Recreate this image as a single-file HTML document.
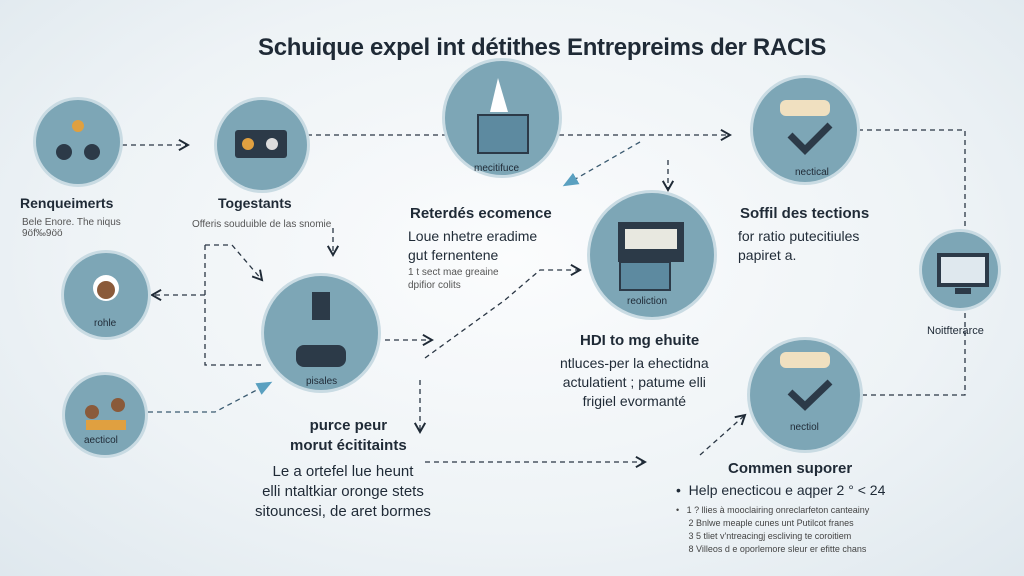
<!DOCTYPE html><html><head><meta charset="utf-8"><style>
body{margin:0;width:1024px;height:576px;overflow:hidden;background:radial-gradient(ellipse at 50% 45%,#fbfcfd 0%,#eef3f6 60%,#dfe8ee 100%);font-family:"Liberation Sans",sans-serif;color:#1f2a36;position:relative}
.t{position:absolute;white-space:nowrap}
.c{position:absolute;border-radius:50%;background:#7da6b6;box-shadow:0 0 0 3px #c9dbe3}
.b{font-weight:bold}
.i{position:absolute}
</style></head><body>
<svg width="1024" height="576" style="position:absolute;left:0;top:0">
<defs><marker id="a" markerWidth="10" markerHeight="10" refX="8" refY="5" orient="auto"><path d="M1,1 L8,5 L1,9" fill="none" stroke="#1f2a36" stroke-width="1.5"/></marker>
<marker id="b" markerWidth="12" markerHeight="10" refX="10" refY="5" orient="auto"><path d="M0,0 L12,5 L0,10 Z" fill="#5aa0c0"/></marker></defs>
<g fill="none" stroke="#2a3644" stroke-width="1.3" stroke-dasharray="5,4">
<path d="M122,145 H188" marker-end="url(#a)"/>
<path d="M307,135 H730" marker-end="url(#a)"/>
<path d="M668,160 V190" marker-end="url(#a)"/>
<path d="M640,142 L565,185" stroke="#3a5a70" marker-end="url(#b)"/>
<path d="M858,130 H965 V240"/>
<path d="M333,228 V255" marker-end="url(#a)"/>
<path d="M205,245 H232 L262,280" marker-end="url(#a)"/>
<path d="M205,245 V365 H265"/>
<path d="M205,295 H152" marker-end="url(#a)"/>
<path d="M148,412 H215 L270,383" stroke="#3a5a70" marker-end="url(#b)"/>
<path d="M385,340 H432" marker-end="url(#a)"/>
<path d="M425,358 L505,300 L540,270 H580" marker-end="url(#a)"/>
<path d="M420,380 V432" marker-end="url(#a)"/>
<path d="M425,462 H645" marker-end="url(#a)"/>
<path d="M700,455 L745,415" marker-end="url(#a)"/>
<path d="M862,395 H965 V300"/>
</g>
</svg>
<div class="t b" style="left:258px;top:34px;font-size:24px;letter-spacing:-0.3px">Schuique expel int détithes Entrepreims der RACIS</div>
<div class="c" style="left:36px;top:100px;width:84px;height:84px"></div>
<div class="c" style="left:217px;top:100px;width:90px;height:90px"></div>
<div class="c" style="left:445px;top:61px;width:114px;height:114px"></div>
<div class="c" style="left:753px;top:78px;width:104px;height:104px"></div>
<div class="c" style="left:64px;top:253px;width:84px;height:84px"></div>
<div class="c" style="left:264px;top:276px;width:114px;height:114px"></div>
<div class="c" style="left:590px;top:193px;width:124px;height:124px"></div>
<div class="c" style="left:750px;top:340px;width:110px;height:110px"></div>
<div class="c" style="left:65px;top:375px;width:80px;height:80px"></div>
<div class="c" style="left:922px;top:232px;width:76px;height:76px"></div>
<svg width="1024" height="576" style="position:absolute;left:0;top:0">
<g fill="#2c3a48">
<circle cx="64" cy="152" r="8"/><circle cx="92" cy="152" r="8"/><circle cx="78" cy="126" r="6" fill="#e0a040"/>
<rect x="235" y="130" width="52" height="28" rx="3"/><circle cx="248" cy="144" r="6" fill="#e0a040"/><circle cx="272" cy="144" r="6" fill="#ddd"/>
<rect x="478" y="115" width="50" height="38" fill="#5d8aa0" stroke="#2c3a48" stroke-width="2"/><path d="M498,78 L508,112 L490,112 Z" fill="#fff"/>
<rect x="780" y="100" width="50" height="16" rx="6" fill="#f0e0c0"/><path d="M790,135 L805,150 L830,125" fill="none" stroke="#2c3a48" stroke-width="7"/>
<circle cx="106" cy="288" r="13" fill="#fff"/><circle cx="106" cy="290" r="9" fill="#8a5a3a"/>
<rect x="312" y="292" width="18" height="28" fill="#2c3a48"/><rect x="296" y="345" width="50" height="22" rx="8"/>
<rect x="618" y="222" width="66" height="40" fill="#2c3a48"/><rect x="625" y="229" width="52" height="20" fill="#e8e8e0"/><rect x="620" y="262" width="50" height="28" fill="#5d8aa0" stroke="#2c3a48" stroke-width="2"/>
<rect x="780" y="352" width="50" height="16" rx="6" fill="#f0e0c0"/><path d="M790,392 L805,406 L830,382" fill="none" stroke="#2c3a48" stroke-width="7"/>
<circle cx="92" cy="412" r="7" fill="#8a5a3a"/><circle cx="118" cy="405" r="7" fill="#8a5a3a"/><rect x="86" y="420" width="40" height="10" fill="#e0a040"/>
<rect x="937" y="253" width="52" height="34" fill="#2c3a48"/><rect x="941" y="257" width="44" height="26" fill="#dfe8ee"/><rect x="955" y="288" width="16" height="6"/>
</g></svg>
<div class="t" style="left:474px;top:163px;font-size:10px">mecitifuce</div>
<div class="t" style="left:795px;top:167px;font-size:10px">nectical</div>
<div class="t" style="left:94px;top:318px;font-size:10px">rohle</div>
<div class="t" style="left:306px;top:376px;font-size:10px">pisales</div>
<div class="t" style="left:627px;top:296px;font-size:10px">reoliction</div>
<div class="t" style="left:790px;top:422px;font-size:10px">nectiol</div>
<div class="t" style="left:84px;top:435px;font-size:10px">aecticol</div>
<div class="t b" style="left:20px;top:195px;font-size:14px">Renqueimerts</div>
<div class="t" style="left:22px;top:217px;font-size:10px;color:#555">Bele Enore. The niqus<br>9öf‰9öö</div>
<div class="t b" style="left:218px;top:195px;font-size:14px">Togestants</div>
<div class="t" style="left:192px;top:219px;font-size:10px;color:#555">Offeris souduible de las snomie</div>
<div class="t b" style="left:410px;top:205px;font-size:15px">Reterdés ecomence</div>
<div class="t" style="left:408px;top:227px;font-size:14px;line-height:19px">Loue nhetre eradime<br>gut fernentene</div>
<div class="t" style="left:408px;top:266px;font-size:10px;color:#555;line-height:13px">1 t sect mae greaine<br>dpifior colits</div>
<div class="t b" style="left:740px;top:205px;font-size:15px">Soffil des tections</div>
<div class="t" style="left:738px;top:227px;font-size:14px;line-height:19px">for ratio putecitiules<br>papiret a.</div>
<div class="t" style="left:927px;top:325px;font-size:11px">Noitfterarce</div>
<div class="t b" style="left:580px;top:332px;font-size:15px">HDI to mg ehuite</div>
<div class="t" style="left:560px;top:354px;font-size:14px;line-height:19px;text-align:center">ntluces-per la ehectidna<br>actulatient ; patume elli<br>frigiel evormanté</div>
<div class="t b" style="left:290px;top:416px;font-size:15px;line-height:20px;text-align:center">purce peur<br>morut écititaints</div>
<div class="t" style="left:255px;top:462px;font-size:15px;line-height:20px;text-align:center">Le a ortefel lue heunt<br>elli ntaltkiar oronge stets<br>sitouncesi, de aret bormes</div>
<div class="t b" style="left:728px;top:460px;font-size:15px">Commen suporer</div>
<div class="t" style="left:676px;top:482px;font-size:14px">•&nbsp; Help enecticou e aqper 2 ° &lt; 24</div>
<div class="t" style="left:676px;top:504px;font-size:9px;color:#444;line-height:13px">•&nbsp;&nbsp; 1 ? llies à mooclairing onreclarfeton canteainy<br>&nbsp;&nbsp;&nbsp;&nbsp;&nbsp;2 Bnlwe meaple cunes unt Putilcot franes<br>&nbsp;&nbsp;&nbsp;&nbsp;&nbsp;3 5 tliet v'ntreacingj escliving te coroitiem<br>&nbsp;&nbsp;&nbsp;&nbsp;&nbsp;8 Villeos d e oporlemore sleur er efitte chans</div>
</body></html>
